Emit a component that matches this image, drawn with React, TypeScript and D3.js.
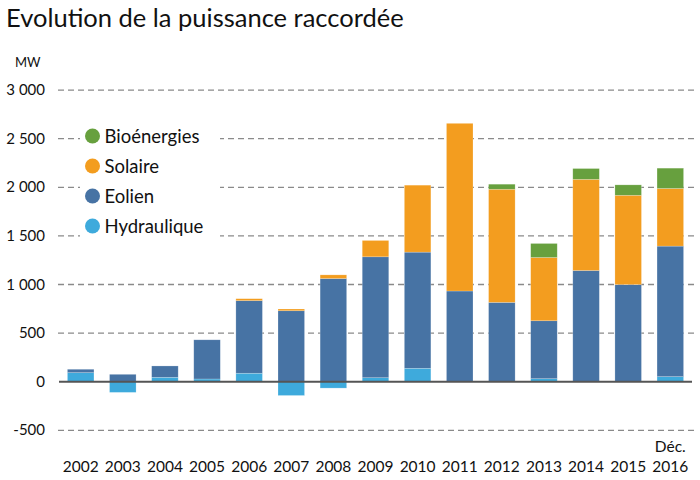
import { useEffect, useRef } from "react"
import * as d3 from "d3"

// Puissance raccordée par filière et par année (MW)
const years = ["2002", "2003", "2004", "2005", "2006", "2007", "2008", "2009", "2010", "2011", "2012", "2013", "2014", "2015", "2016"]
const hydraulique = [93, -110, 45, 28, 87, -142, -66, 41, 138, 0, 0, 31, 0, 0, 52]
const eolien = [35, 76, 117, 403, 747, 730, 1061, 1244, 1195, 933, 816, 596, 1144, 999, 1343]
const solaire = [0, 0, 0, 0, 20, 18, 38, 168, 689, 1725, 1164, 651, 938, 919, 593]
const bioenergies = [0, 0, 0, 0, 0, 0, 0, 0, 0, 0, 52, 144, 111, 107, 209]
const yTicks = [-500, 0, 500, 1000, 1500, 2000, 2500, 3000]

const series = [
  { key: "Hydraulique", values: hydraulique, color: "#3eaadc" },
  { key: "Eolien", values: eolien, color: "#4773a4" },
  { key: "Solaire", values: solaire, color: "#f39d1f" },
  { key: "Bioénergies", values: bioenergies, color: "#67a03e" },
]

const FONT = "Lato, 'Noto Sans', sans-serif"

export default function App() {
  const svgRef = useRef<SVGSVGElement>(null)

  useEffect(() => {
    if (!svgRef.current) return
    const svg = d3.select(svgRef.current)
    svg.selectAll("*").remove()

    const table = years.map((year, i) => {
      const row: any = { year }
      series.forEach((s) => (row[s.key] = s.values[i]))
      return row
    })

    const stacked = d3
      .stack<any>()
      .keys(series.map((s) => s.key))
      .offset(d3.stackOffsetDiverging)(table)

    const x = d3.scaleBand().domain(years).range([59, 692]).paddingInner(0.37).paddingOuter(0.2)
    const y = d3.scaleLinear().domain([0, 3000]).range([381.7, 90.1])

    const fr = d3.formatLocale({ decimal: ",", thousands: "\u00a0", grouping: [3], currency: ["", ""], minus: "-" })
    const fmt = fr.format(",d")

    // Title
    svg
      .append("text")
      .attr("x", 6)
      .attr("y", 27)
      .attr("fill", "#111")
      .style("font-family", FONT)
      .style("font-size", "25.5px")
      .text("Evolution de la puissance raccordée")

    svg
      .append("text")
      .attr("x", 15)
      .attr("y", 67)
      .attr("fill", "#111")
      .style("font-family", FONT)
      .style("font-size", "13px")
      .text("MW")

    // Dashed gridlines
    svg
      .append("g")
      .selectAll("line")
      .data(yTicks.filter((t) => t !== 0))
      .enter()
      .append("line")
      .attr("x1", 58)
      .attr("x2", 695)
      .attr("y1", (d) => y(d))
      .attr("y2", (d) => y(d))
      .attr("stroke", "#8a8a8a")
      .attr("stroke-width", 1.3)
      .attr("stroke-dasharray", "6,4")

    // Y labels
    svg
      .append("g")
      .selectAll("text")
      .data(yTicks)
      .enter()
      .append("text")
      .attr("x", 45)
      .attr("y", (d) => y(d) + 5)
      .attr("text-anchor", "end")
      .attr("fill", "#111")
      .style("font-family", FONT)
      .style("font-size", "15px")
      .text((d) => fmt(d))

    // Stacked bars
    svg
      .append("g")
      .selectAll("g")
      .data(stacked)
      .enter()
      .append("g")
      .attr("fill", (d, i) => series[i].color)
      .selectAll("rect")
      .data((d) => d)
      .enter()
      .append("rect")
      .attr("x", (d: any) => x(d.data.year) || 0)
      .attr("width", x.bandwidth())
      .attr("y", (d) => y(Math.max(d[0], d[1])))
      .attr("height", (d) => Math.abs(y(d[0]) - y(d[1])))
      .attr("stroke", "rgba(255,255,255,0.35)")
      .attr("stroke-width", 0.6)

    // Zero line
    svg
      .append("line")
      .attr("x1", 59)
      .attr("x2", 692)
      .attr("y1", y(0))
      .attr("y2", y(0))
      .attr("stroke", "#555")
      .attr("stroke-width", 2)

    // X labels
    const xg = svg.append("g")
    xg.selectAll("text")
      .data(years)
      .enter()
      .append("text")
      .attr("x", (d) => (x(d) || 0) + x.bandwidth() / 2)
      .attr("y", 472)
      .attr("text-anchor", "middle")
      .attr("fill", "#111")
      .style("font-family", FONT)
      .style("font-size", "15.5px")
      .text((d) => d)
    xg.append("text")
      .attr("x", (x("2016") || 0) + x.bandwidth() / 2)
      .attr("y", 452)
      .attr("text-anchor", "middle")
      .attr("fill", "#111")
      .style("font-family", FONT)
      .style("font-size", "15.5px")
      .text("Déc.")

    // Legend on a white panel that masks the gridlines
    svg.append("rect").attr("x", 80).attr("y", 122).attr("width", 140).attr("height", 118).attr("fill", "#fff")
    const legend = svg
      .append("g")
      .selectAll("g")
      .data([...series].reverse())
      .enter()
      .append("g")
      .attr("transform", (d, i) => `translate(92.5,${136 + i * 30})`)
    legend.append("circle").attr("r", 7.5).attr("fill", (d) => d.color)
    legend
      .append("text")
      .attr("x", 12)
      .attr("y", 6.5)
      .attr("fill", "#111")
      .style("font-family", FONT)
      .style("font-size", "18.5px")
      .text((d) => d.key)
  }, [])

  return (
    <svg
      ref={svgRef}
      width={700}
      height={480}
      style={{ position: "absolute", left: 0, top: 0, background: "#fff" }}
    ></svg>
  )
}
